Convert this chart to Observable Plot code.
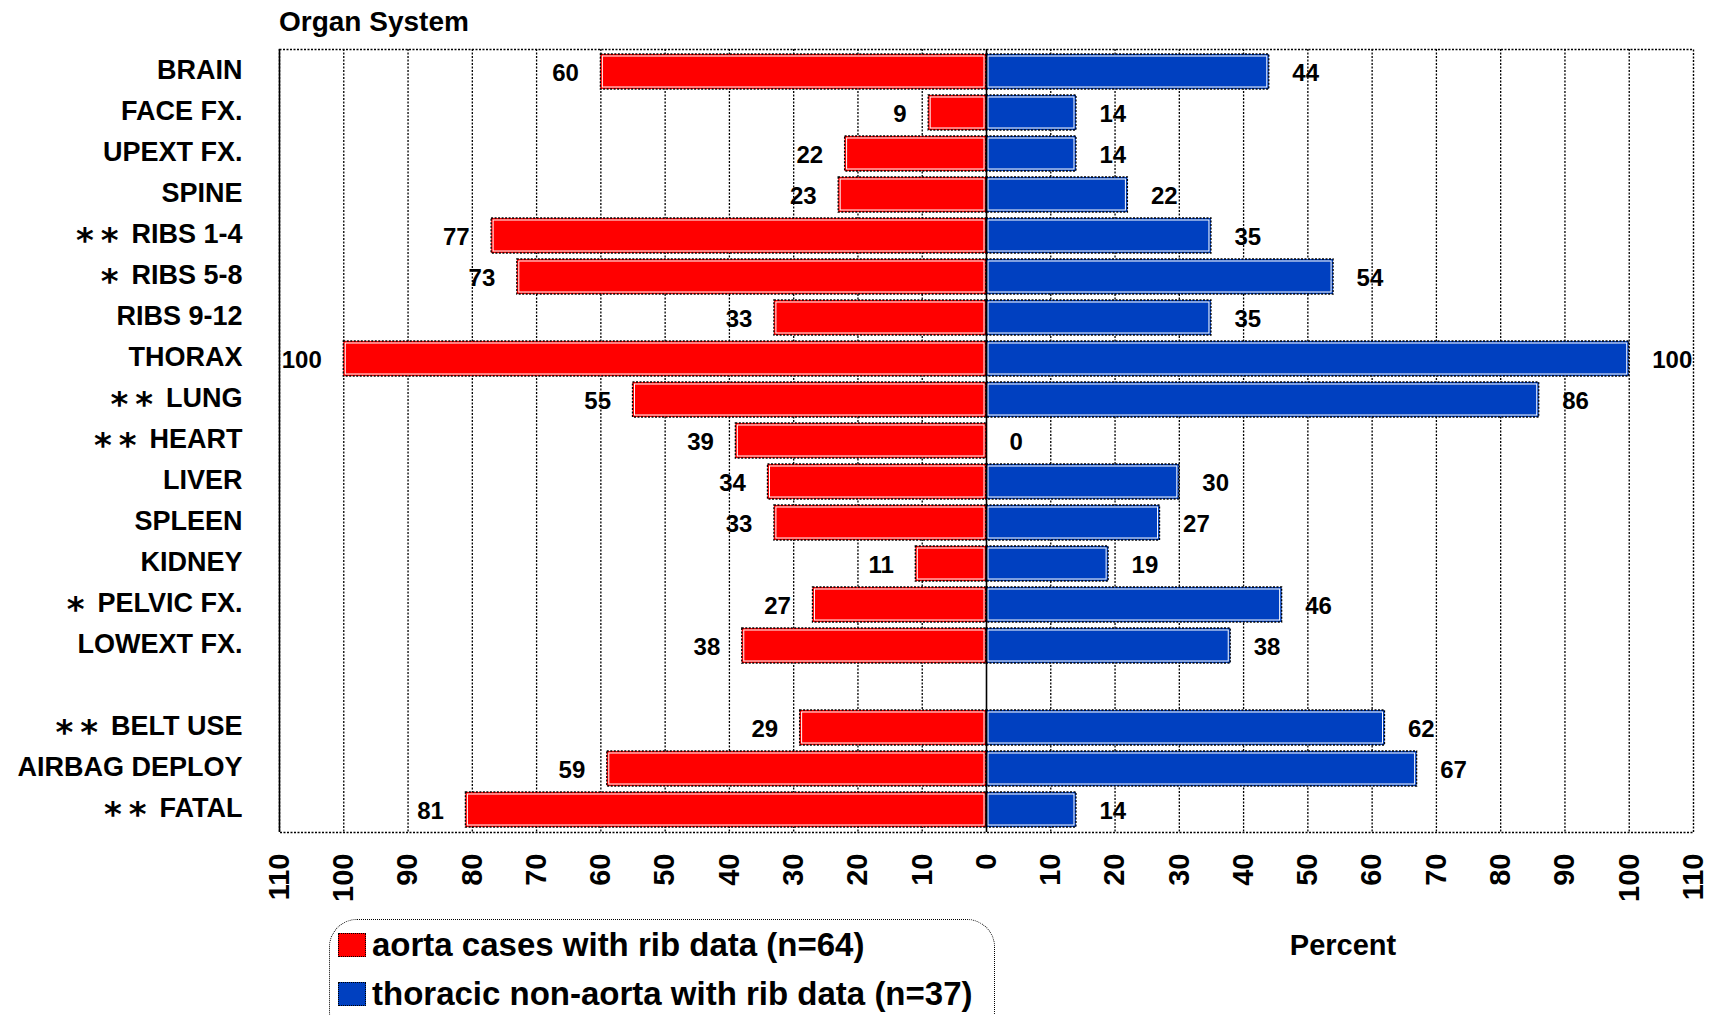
<!DOCTYPE html>
<html><head><meta charset="utf-8">
<script src="https://cdn.jsdelivr.net/npm/d3@7"></script>
<script src="https://cdn.jsdelivr.net/npm/@observablehq/plot@0.6"></script>
<style>
body{margin:0;background:#fff;font-family:"Liberation Sans",Arial,sans-serif;font-weight:bold;color:#000}
#wrap{position:relative;width:1709px;height:1015px;overflow:hidden;background:#fff}
#chart{position:absolute;left:0;top:0}
#title{position:absolute;left:279px;top:6px;font-size:28px;line-height:32px;white-space:nowrap}
#pct{position:absolute;left:1243px;width:200px;text-align:center;top:929px;font-size:29px;line-height:32px}
#legend{position:absolute;left:329px;top:919px;width:666px;height:120px;border:1.5px dotted #000;border-radius:28px;box-sizing:border-box}
.lrow{position:absolute;left:8px;height:40px;display:flex;align-items:center;white-space:nowrap;font-size:33px}
.sw{width:28px;height:24px;border:1.5px dotted #000;margin-right:6px;box-sizing:border-box}
</style></head>
<body><div id="wrap">
<div id="title">Organ System</div>
<div id="chart"></div>
<div id="pct">Percent</div>
<div id="legend"></div>
</div>
<script>
const categories = ["BRAIN","FACE FX.","UPEXT FX.","SPINE","RIBS 1-4","RIBS 5-8","RIBS 9-12","THORAX","LUNG","HEART","LIVER","SPLEEN","KIDNEY","PELVIC FX.","LOWEXT FX.","","BELT USE","AIRBAG DEPLOY","FATAL"];
const markers = ["","","","","**","*","","","**","**","","","","*","","","**","","**"];
const aorta = [60,9,22,23,77,73,33,100,55,39,34,33,11,27,38,null,29,59,81];
const nonAorta = [44,14,14,22,35,54,35,100,86,0,30,27,19,46,38,null,62,67,14];
const xTicks = d3.range(-110, 111, 10);
const seriesNames = ["aorta cases with rib data (n=64)", "thoracic non-aorta with rib data (n=37)"];
const seriesColors = ["#ff0000", "#0040c0"];

const rowsA = categories.map((c, i) => ({cat: c, v: aorta[i]})).filter(d => d.v != null);
const rowsB = categories.map((c, i) => ({cat: c, v: nonAorta[i]})).filter(d => d.v != null);
const barsB = rowsB.filter(d => d.v > 0);

const dotted = "2 1.5";
const plot = Plot.plot({
  width: 1709,
  height: 910,
  marginTop: 49,
  marginBottom: 78,
  marginLeft: 279,
  marginRight: 16,
  style: {fontFamily: "Liberation Sans, Arial, sans-serif", fontWeight: "bold", fontSize: "27px", color: "#000", background: "transparent", overflow: "visible"},
  x: {domain: [-110, 110]},
  y: {domain: categories, paddingInner: 0.15, paddingOuter: 0.075},
  marks: [
    Plot.ruleX(xTicks.filter(d => Math.abs(d) < 110 && d !== 0), {stroke: "#000", strokeWidth: 1.3, strokeDasharray: dotted}),
    Plot.barX(rowsA, {y: "cat", x1: d => -d.v, x2: 0, fill: seriesColors[0], stroke: "#000", strokeWidth: 1.3, strokeDasharray: dotted}),
    Plot.barX(barsB, {y: "cat", x1: 0, x2: d => d.v, fill: seriesColors[1], stroke: "#000", strokeWidth: 1.3, strokeDasharray: dotted}),
    Plot.barX(rowsA, {y: "cat", x1: d => -d.v, x2: 0, fill: "none", stroke: "#fff", strokeWidth: 1, inset: 2}),
    Plot.barX(barsB, {y: "cat", x1: 0, x2: d => d.v, fill: "none", stroke: "#fff", strokeWidth: 1, inset: 2}),
    Plot.ruleX([0], {stroke: "#000", strokeWidth: 1.6}),
    Plot.frame({stroke: "#000", strokeWidth: 1.4, strokeDasharray: dotted}),
    Plot.ruleX([-110], {stroke: "#000", strokeWidth: 1.6}),
    Plot.text(rowsA, {y: "cat", x: d => -d.v, text: d => String(d.v), textAnchor: "end", dx: -22, dy: 1, fontSize: 24, fontWeight: "bold", fill: "#000"}),
    Plot.text(rowsB, {y: "cat", x: d => d.v, text: d => String(d.v), textAnchor: "start", dx: 23, dy: 1, fontSize: 24, fontWeight: "bold", fill: "#000"}),
    Plot.axisY({tickSize: 0, tickPadding: 37, fontSize: 27, fontWeight: "bold", dy: -2, label: null}),
    Plot.axisX(xTicks, {tickSize: 0, tickPadding: 21, tickRotate: -90, fontSize: 29, fontWeight: "bold", label: null, tickFormat: d => String(Math.abs(d))})
  ]
});
document.getElementById("chart").append(plot);

// significance asterisks, placed just left of each category label
const ns = "http://www.w3.org/2000/svg";
const yScale = plot.scale("y");
const svgRect = plot.getBoundingClientRect();
const labelNodes = Array.from(plot.querySelectorAll('g[aria-label="y-axis tick label"] text'));
const starGroup = document.createElementNS(ns, "g");
starGroup.setAttribute("font-family", "DejaVu Sans, sans-serif");
starGroup.setAttribute("font-weight", "bold");
starGroup.setAttribute("font-size", "34");
starGroup.setAttribute("text-anchor", "end");
plot.append(starGroup);
categories.forEach((c, i) => {
  if (!markers[i]) return;
  const node = labelNodes.find(n => n.textContent === c);
  if (!node) return;
  const r = node.getBoundingClientRect();
  const left = r.left - svgRect.left;
  const cy = yScale.apply(c) + yScale.bandwidth / 2;
  const t = document.createElementNS(ns, "text");
  t.setAttribute("x", left - 6);
  t.setAttribute("y", cy + 16);
  t.setAttribute("letter-spacing", "7");
  t.textContent = markers[i];
  starGroup.append(t);
});

// legend
const lg = document.getElementById("legend");
seriesNames.forEach((name, i) => {
  const row = document.createElement("div");
  row.className = "lrow";
  row.style.top = (i === 0 ? 5 : 54) + "px";
  const sw = document.createElement("div");
  sw.className = "sw";
  sw.style.background = seriesColors[i];
  const tx = document.createElement("span");
  tx.textContent = name;
  row.append(sw, tx);
  lg.append(row);
});
</script>
</body></html>
